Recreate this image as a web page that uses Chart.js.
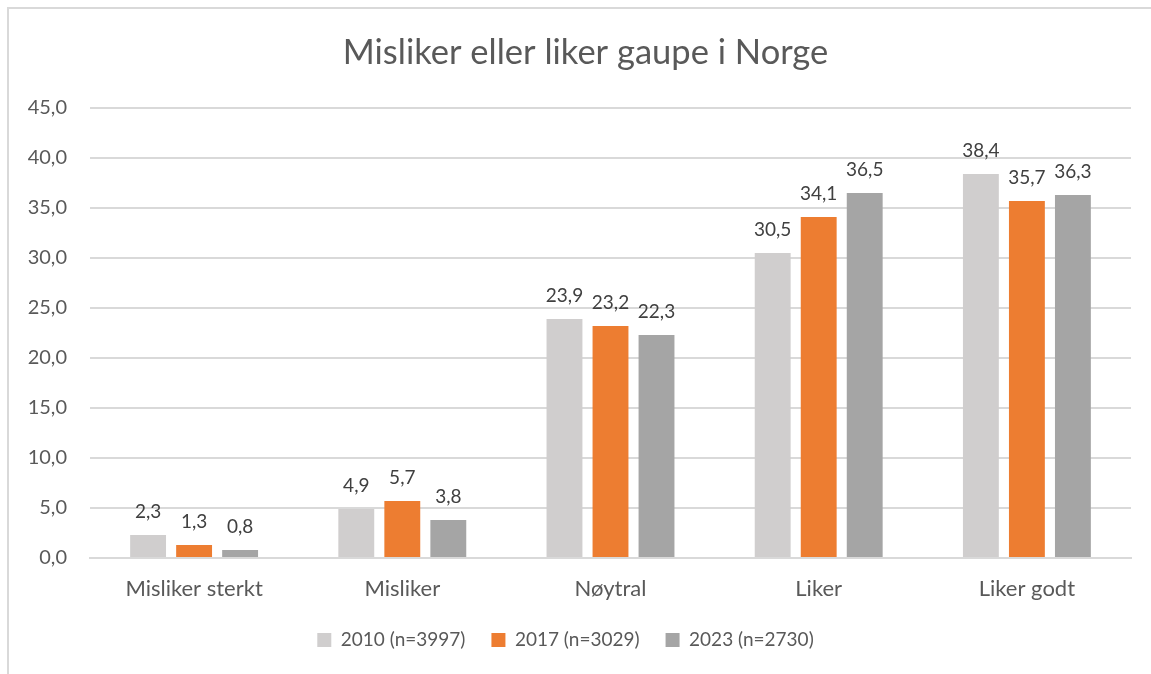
<!DOCTYPE html>
<html>
<head>
<meta charset="utf-8">
<script src="https://cdn.jsdelivr.net/npm/chart.js@4.4.0/dist/chart.umd.min.js"></script>
<style>
  html, body { margin: 0; padding: 0; background: #fff; overflow: hidden; }
  #frame { position: absolute; left: 7px; top: 7px; width: 1160px; height: 680px; border: 2px solid #d9d9d9; }
  #wrap { position: absolute; left: 0; top: 0; width: 1151px; height: 674px; }
</style>
</head>
<body>
<div id="frame"></div>
<div id="wrap"><canvas id="chart" width="1151" height="674"></canvas></div>
<script>
// data
const categories = ['Misliker sterkt', 'Misliker', 'Nøytral', 'Liker', 'Liker godt'];
const seriesNames = ['2010 (n=3997)', '2017 (n=3029)', '2023 (n=2730)'];
const values2010 = [2.3, 4.9, 23.9, 30.5, 38.4];
const values2017 = [1.3, 5.7, 23.2, 34.1, 35.7];
const values2023 = [0.8, 3.8, 22.3, 36.5, 36.3];
const yTicks = [0, 5, 10, 15, 20, 25, 30, 35, 40, 45];

const colors = ['#d0cece', '#ed7d31', '#a5a5a5'];
const fmt = v => Number(v).toFixed(1).replace('.', ',');

// simple "outside end" value labels
const valueLabels = {
    id: 'valueLabels',
    afterDatasetsDraw(chart) {
        const ctx = chart.ctx;
        ctx.save();
        ctx.font = '19px Lato';
        ctx.fillStyle = '#404040';
        ctx.textAlign = 'center';
        ctx.textBaseline = 'alphabetic';
        chart.data.datasets.forEach((ds, i) => {
            chart.getDatasetMeta(i).data.forEach((bar, j) => {
                ctx.fillText(fmt(ds.data[j]), bar.x, bar.y - 17);
            });
        });
        ctx.restore();
    }
};

// title sits centred on the whole frame, not on the plot box
const shiftTitle = {
    id: 'shiftTitle',
    afterLayout(chart) {
        const t = chart.titleBlock;
        if (t) { t.left += 20; t.right += 20; }
    }
};

new Chart(document.getElementById('chart').getContext('2d'), {
    type: 'bar',
    data: {
        labels: categories,
        datasets: [values2010, values2017, values2023].map((vals, i) => ({
            label: seriesNames[i],
            data: vals,
            backgroundColor: colors[i],
            borderWidth: 0,
            categoryPercentage: 0.663,
            barPercentage: 0.78
        }))
    },
    options: {
        responsive: false,
        animation: false,
        layout: { padding: { left: 0, right: 20, top: 0, bottom: 14.5 } },
        plugins: {
            tooltip: { enabled: false },
            title: {
                display: true,
                text: 'Misliker eller liker gaupe i Norge',
                color: '#595959',
                font: { family: 'Lato', size: 34.5, weight: 'normal' },
                padding: { top: 32.5, bottom: 34 }
            },
            legend: {
                position: 'bottom',
                labels: {
                    color: '#595959',
                    font: { family: 'Lato', size: 19 },
                    boxWidth: 14,
                    boxHeight: 14,
                    padding: 26
                }
            }
        },
        scales: {
            x: {
                grid: { display: false },
                border: { color: '#d9d9d9', width: 2 },
                afterFit: scale => { scale.height = 46.5; },
                ticks: { color: '#595959', font: { family: 'Lato', size: 22 }, padding: 10 }
            },
            y: {
                min: 0,
                max: 45,
                afterBuildTicks: scale => { scale.ticks = yTicks.map(v => ({ value: v })); },
                afterFit: scale => { scale.width = 90; },
                grid: { color: '#d9d9d9', lineWidth: 2, drawTicks: false },
                border: { display: false },
                ticks: {
                    color: '#595959',
                    font: { family: 'Lato', size: 20 },
                    padding: 23,
                    callback: v => fmt(v)
                }
            }
        }
    },
    plugins: [valueLabels, shiftTitle]
});
</script>
</body>
</html>
